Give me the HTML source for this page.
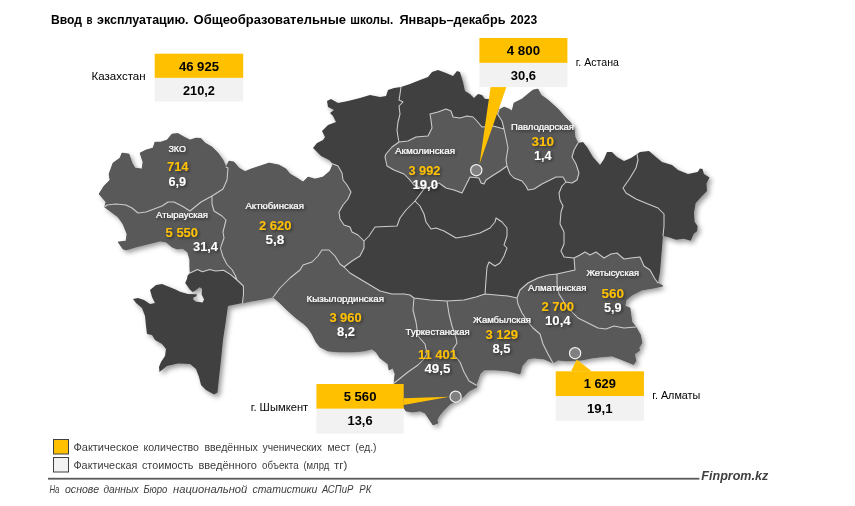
<!DOCTYPE html>
<html lang="ru"><head><meta charset="utf-8"><title>Ввод в эксплуатацию. Общеобразовательные школы</title>
<style>
html,body{margin:0;padding:0;background:#fff}
svg{display:block}
text{font-family:"Liberation Sans",sans-serif}
.ttl{font-weight:bold;font-size:12.6px;fill:#000}
.rn{font-size:9.5px;fill:#fff;stroke:#fff;stroke-width:0.2px;text-anchor:middle}
.v1{font-size:13.5px;font-weight:bold;fill:#FFC000;text-anchor:middle}
.v2{font-size:13.5px;font-weight:bold;fill:#fff;text-anchor:middle}
.bv{font-size:13px;font-weight:bold;fill:#000;text-anchor:middle}
.cn{font-size:11px;fill:#000}
.lg{font-size:10.9px;fill:#3c3c3c}
.ft{font-size:11px;fill:#3c3c3c;font-style:italic}
.fp{font-size:12.5px;fill:#404040;font-style:italic;font-weight:bold}
</style></head><body>
<svg width="855" height="506" viewBox="0 0 855 506">
<defs>
<filter id="msh" x="-5%" y="-5%" width="112%" height="112%"><feDropShadow dx="2.6" dy="2.8" stdDeviation="2.4" flood-color="#000" flood-opacity="0.4"/></filter>
<filter id="tsh" x="-20%" y="-20%" width="150%" height="160%"><feDropShadow dx="1.5" dy="1.5" stdDeviation="1.5" flood-color="#000" flood-opacity="0.5"/></filter>
</defs>
<rect width="855" height="506" fill="#fff"/>
<text class="ttl" x="51" y="24.2" textLength="31" lengthAdjust="spacingAndGlyphs">Ввод</text>
<text class="ttl" x="86.4" y="24.2" textLength="6" lengthAdjust="spacingAndGlyphs">в</text>
<text class="ttl" x="97" y="24.2" textLength="91.6" lengthAdjust="spacingAndGlyphs">эксплуатацию.</text>
<text class="ttl" x="193.6" y="24.2" textLength="152.4" lengthAdjust="spacingAndGlyphs">Общеобразовательные</text>
<text class="ttl" x="350.2" y="24.2" textLength="43" lengthAdjust="spacingAndGlyphs">школы.</text>
<text class="ttl" x="399.5" y="24.2" textLength="106" lengthAdjust="spacingAndGlyphs">Январь–декабрь</text>
<text class="ttl" x="510.3" y="24.2" textLength="26.8" lengthAdjust="spacingAndGlyphs">2023</text>
<g filter="url(#msh)">
<path d="M104.5 207 L106 202 L99 194 L104 186 L110 180 L109 174 L113 163 L120 158 L122 153 L129 154 L132 163 L135 168 L142 169 L143 162 L140 153 L146 150 L153 148 L155 142 L161 142 L167 140 L172 134 L178 133.5 L184 137 L190 140 L196 138 L201 138.5 L205 143 L212 147 L218 153 L223 160 L226 167 L229 161 L234 162 L239 168 L245 171.5 L251 169 L260 166 L269 163 L279 165 L286 169 L290 174 L297 178 L303 182 L308 177 L315 179 L323 177 L330 171 L333 164 L329 160 L321 156 L317 152 L313 148 L317 143 L323 140 L325 137 L322 131 L328 125 L336 122 L333 116 L330 113 L334 110 L328 107 L327 101 L331 99 L338 103 L348 101 L360 98 L370 95 L380 97 L386 96 L388 90 L394 88 L401 87 L410 84 L420 80 L428 77 L432 72 L438 70 L446 73 L453 76 L457 71 L460 72 L463 82 L465 91 L470 94 L474 98 L478 94 L482 95 L485 99 L489 99 L494 104 L499 110 L504 107 L509 109 L512 111 L514 103 L522 99 L528 94 L533 90 L538 89 L541 95 L548 100 L558 109 L564 116 L570 122 L574 129 L575 137 L578 143 L583 142 L587 147 L593 157 L600 165 L604 159 L607 152 L612 152 L617 157 L624 161 L631 158 L637 154 L640 152 L649 151 L656 157 L662 162 L672 165 L678 170 L688 174 L697.6 172 L700 168.5 L702.5 169 L704 174 L709.5 177.6 L706.5 183.5 L707 191 L701.6 196.4 L695.6 203.3 L694 213 L694.7 222 L697.6 226 L697.2 231 L693.7 234 L690.7 240.7 L683.8 238.8 L676 239.7 L668 237 L663 236 L662 248 L661 260 L660 272 L658 283 L663 286 L654 288 L642 290 L632 295 L626 300 L625 306 L630 308 L631 316 L632 322 L636 327 L640.5 335 L642 343 L639 347.5 L639.5 350.5 L634.5 354 L636 361 L633.5 364.5 L620 359 L612 356 L600 357 L592 358 L582 360 L566 361 L558 360 L553 363 L544 359 L534 358 L528 359 L522 366 L520 374 L508 371 L496 370 L484 370 L480 374 L478 380 L476 385 L477 387 L469 391 L463 397 L458 400 L450 404 L444 410 L439 416 L437 420 L438 423 L433 425 L429 419 L425 413 L420 411 L412 412 L406 411 L404 408 L400 400 L396 390 L394 383 L395 374 L393 368 L389 370 L388 364 L380 358 L376 352 L372 349 L364 351 L352 352 L340 352 L328 351 L320 347 L316 342 L312 334 L308 328 L304 324 L296 318 L287 310 L280 303 L273 297 L264 299 L252 301 L242.5 303 L228 306 L226 320 L223 340 L221 360 L218.8 380 L217.5 392.5 L214 394.5 L206 390 L201 385 L199 377 L196 369 L190 364 L178 363.5 L167 366 L159.5 372 L159 367 L161 362 L165 356 L166 349 L162 344 L155 340 L152 335 L147 334 L146 326 L145 316 L142 308 L136 303 L133 299 L138 298 L144 300 L150 304 L155 303 L152 297 L150 290 L156 285 L162 284 L170 287.2 L175 289.2 L180 291.7 L188 294 L196.7 294.3 L196.5 296.3 L193.5 297.5 L193.2 299.6 L195.7 301.6 L202.6 302.5 L204.1 299.6 L201.6 294.6 L202.1 288.7 L199.6 287.2 L195.5 290.5 L192.7 291.9 L189.8 289.5 L185.2 283 L187 278.8 L187.6 275.5 L190 273 L189.8 266 L189.8 259.7 L187.7 252.3 L182.8 248.4 L177 249 L172 247 L166 242 L160 241 L148 244 L136 247 L126 250 L123 249 L118 242 L126 241 L127 234 L123 224 L118 217 L110 211Z" fill="#404040"/>
</g>
<path d="M104.5 207 L106 202 L99 194 L104 186 L110 180 L109 174 L113 163 L120 158 L122 153 L129 154 L132 163 L135 168 L142 169 L143 162 L140 153 L146 150 L153 148 L155 142 L161 142 L167 140 L172 134 L178 133.5 L184 137 L190 140 L196 138 L201 138.5 L205 143 L212 147 L218 153 L223 160 L226 167 L228 168 L227 180 L223 189 L212 196 L201 202 L190 211 L182 206 L174 202 L168 202 L162 206 L154 209 L146 212 L138 213 L132 208 L126 205 L116 204 L107 205Z" fill="#595959" stroke="#595959" stroke-width="0.5"/>
<path d="M104.5 207 L107 205 L116 204 L126 205 L132 208 L138 213 L146 212 L154 209 L162 206 L168 202 L174 202 L182 206 L190 211 L201 202 L212 196 L212 204 L214 211 L222 216 L226 220 L223 232 L224 238 L220.4 248.2 L222.9 256.4 L227 264.5 L231.9 269.5 L235.2 275.2 L237 280 L230.3 274.4 L223.7 270.3 L215.5 271 L209.8 269.5 L202.4 271.8 L197.5 269.5 L190 273 L189.8 266 L189.8 259.7 L187.7 252.3 L182.8 248.4 L177 249 L172 247 L166 242 L160 241 L148 244 L136 247 L126 250 L123 249 L118 242 L126 241 L127 234 L123 224 L118 217 L110 211Z" fill="#595959" stroke="#595959" stroke-width="0.5"/>
<path d="M226 167 L229 161 L234 162 L239 168 L245 171.5 L251 169 L260 166 L269 163 L279 165 L286 169 L290 174 L297 178 L303 182 L308 177 L315 179 L323 177 L330 171 L333 164 L338 166 L342 173 L343 180 L347 185 L351 192 L348 199 L343 205 L339 212 L340 219 L344 225 L350 227 L352 232 L358 235 L364 241 L364 248 L360 256 L352 261 L344 267 L340 264 L335 256 L329 250 L322 250 L318 256 L312 262 L303 265 L300 270 L290 278 L280 288 L274 296 L273 297 L264 299 L252 301 L242.5 303 L243.5 294 L243.4 286 L237 280 L235.2 275.2 L231.9 269.5 L227 264.5 L222.9 256.4 L220.4 248.2 L224 238 L223 232 L226 220 L222 216 L214 211 L212 204 L212 196 L223 189 L227 180 L228 168Z" fill="#595959" stroke="#595959" stroke-width="0.5"/>
<path d="M399 142 L408 141 L416 137 L428 136 L432 128 L431 120 L430 114 L438 112 L446 109 L451 111 L453 117 L460 118 L467 116 L473 117 L476 120 L482 127 L493 126 L504 129 L506 138 L508 148 L506 160 L507 166 L500 171 L492 176 L486 180 L484 184 L481 183 L479 178 L470 177 L466 185 L462 193 L454 190 L446 188 L439 183 L432 186 L424 189 L414 185 L409 179 L404 174 L394 170 L387 166 L385 157 L386 154 L392 147Z" fill="#595959" stroke="#595959" stroke-width="0.5"/>
<path d="M499 110 L504 107 L509 109 L512 111 L514 103 L522 99 L528 94 L533 90 L538 89 L541 95 L548 100 L558 109 L564 116 L570 122 L574 129 L575 137 L578 143 L574 150 L572 157 L576 164 L579 173 L577 180 L572 183 L566 182 L563 177 L556 177 L550 180 L542 184 L534 189 L528 190 L526 186 L522 181 L514 178 L510 174 L507 166 L506 160 L508 148 L506 138 L504 129 L502 121 L497.5 114Z" fill="#595959" stroke="#595959" stroke-width="0.5"/>
<path d="M273 297 L274 296 L280 288 L290 278 L300 270 L303 265 L312 262 L318 256 L322 250 L329 250 L335 256 L340 264 L344 267 L350 273 L360 279 L370 285 L380 291 L392 294 L404 294 L410 295 L414 298 L413 310 L416 322 L418 336 L425 344 L427 354 L423 360 L418 365 L408 372 L398 380 L394 383 L395 374 L393 368 L389 370 L388 364 L380 358 L376 352 L372 349 L364 351 L352 352 L340 352 L328 351 L320 347 L316 342 L312 334 L308 328 L304 324 L296 318 L287 310 L280 303Z" fill="#595959" stroke="#595959" stroke-width="0.5"/>
<path d="M414 298 L430 300 L447 301 L449 314 L452 326 L456 338 L457 343 L453 349 L455 356 L460 362 L464 372 L469 381 L476 385 L477 387 L469 391 L463 397 L458 400 L450 404 L444 410 L439 416 L437 420 L438 423 L433 425 L429 419 L425 413 L420 411 L412 412 L406 411 L404 408 L400 400 L396 390 L394 383 L398 380 L408 372 L418 365 L423 360 L427 354 L425 344 L418 336 L416 322 L413 310Z" fill="#595959" stroke="#595959" stroke-width="0.5"/>
<path d="M447 301 L464 300 L476 297 L485 294 L496 295 L508 296 L517 298 L518 304 L522 313 L528 322 L533 328 L540 334 L543 344 L548 354 L553 363 L544 359 L534 358 L528 359 L522 366 L520 374 L508 371 L496 370 L484 370 L480 374 L478 380 L476 385 L469 381 L464 372 L460 362 L455 356 L453 349 L457 343 L456 338 L452 326 L449 314Z" fill="#595959" stroke="#595959" stroke-width="0.5"/>
<path d="M517 298 L520 290 L528 283 L538 278 L548 275 L557 274 L557 284 L559 294 L564 302 L570 310 L578 318 L588 323 L598 328 L606 329 L614 326 L624 328 L636 327 L640.5 335 L642 343 L639 347.5 L639.5 350.5 L634.5 354 L636 361 L633.5 364.5 L620 359 L612 356 L600 357 L592 358 L582 360 L566 361 L558 360 L553 363 L548 354 L543 344 L540 334 L533 328 L528 322 L522 313 L518 304Z" fill="#595959" stroke="#595959" stroke-width="0.5"/>
<path d="M574 258 L580 255 L585 252 L590 255 L596 252 L604 258 L611 254 L617 253 L624 259 L631 258 L640 257 L644 266 L650 270 L655 279 L658 283 L663 286 L654 288 L642 290 L632 295 L626 300 L625 306 L630 308 L631 316 L632 322 L636 327 L624 328 L614 326 L606 329 L598 328 L588 323 L578 318 L570 310 L564 302 L559 294 L557 284 L557 274 L575 270Z" fill="#595959" stroke="#595959" stroke-width="0.5"/>
<path d="M226 167 L228 168 L227 180 L223 189 L212 196 M212 196 L201 202 L190 211 L182 206 L174 202 L168 202 L162 206 L154 209 L146 212 L138 213 L132 208 L126 205 L116 204 L107 205 L104.5 207 M212 196 L212 204 L214 211 L222 216 L226 220 L223 232 L224 238 L220.4 248.2 L222.9 256.4 L227 264.5 L231.9 269.5 L235.2 275.2 L237 280 M190 273 L197.5 269.5 L202.4 271.8 L209.8 269.5 L215.5 271 L223.7 270.3 L230.3 274.4 L237 280 M237 280 L243.4 286 L243.5 294 L242.5 303 M333 164 L338 166 L342 173 L343 180 L347 185 L351 192 L348 199 L343 205 L339 212 L340 219 L344 225 L350 227 L352 232 L358 235 L364 241 M364 241 L364 248 L360 256 L352 261 L344 267 M344 267 L340 264 L335 256 L329 250 L322 250 L318 256 L312 262 L303 265 L300 270 L290 278 L280 288 L274 296 L273 297 M401 87 L400 94 L399 100 L403 102 L399 106 L400 114 L398 122 L397 130 L398 137 L399 142 M399 142 L408 141 L416 137 L428 136 L432 128 L431 120 L430 114 L438 112 L446 109 L451 111 L453 117 L460 118 L467 116 L473 117 L476 120 L482 127 L493 126 L504 129 M399 142 L392 147 L386 154 L385 157 L387 166 L394 170 L404 174 L409 179 L414 185 L424 189 M424 189 L415 201 M415 201 L406 210 L400 218 L397 226 L375 227 L369 236 L364 241 M499 110 L497.5 114 L502 121 L504 129 M504 129 L506 138 L508 148 L506 160 L507 166 M507 166 L500 171 L492 176 L486 180 L484 184 L481 183 L479 178 L470 177 L466 185 L462 193 L454 190 L446 188 L439 183 L432 186 L424 189 M578 143 L574 150 L572 157 L576 164 L579 173 L577 180 L572 183 L566 182 M566 182 L563 177 L556 177 L550 180 L542 184 L534 189 L528 190 L526 186 L522 181 L514 178 L510 174 L507 166 M637 154 L638 160 L636 168 L630 178 L623 188 L626 193 L636 199 L648 204 L658 208 L664 214 L664 226 L663 236 M566 182 L562 186 L559 193 L560 200 L563 206 L561 212 L560 224 L564 232 L564 244 L561 251 L564 257 L574 258 M574 258 L580 255 L585 252 L590 255 L596 252 L604 258 L611 254 L617 253 L624 259 L631 258 L640 257 L644 266 L650 270 L655 279 L658 283 M574 258 L575 270 L557 274 M557 274 L548 275 L538 278 L528 283 L520 290 L517 298 M557 274 L557 284 L559 294 L564 302 L570 310 L578 318 L588 323 L598 328 L606 329 L614 326 L624 328 L636 327 M517 298 L518 304 L522 313 L528 322 L533 328 L540 334 L543 344 L548 354 L553 363 M517 298 L508 296 L496 295 L485 294 M415 201 L420 206 L424 214 L426 222 L431 229 L436 228 L444 231 L456 238 L468 236 L480 233 L490 228 L495 222 L496 218 L502 222 L507 228 L507 236 L504 245 L507 248 L504 256 L500 263 L495 266 L489 262 L487 267 L486 280 L485 294 M485 294 L476 297 L464 300 L447 301 M447 301 L430 300 L414 298 M344 267 L350 273 L360 279 L370 285 L380 291 L392 294 L404 294 L410 295 L414 298 M414 298 L413 310 L416 322 L418 336 L425 344 L427 354 L423 360 L418 365 L408 372 L398 380 L394 383 M447 301 L449 314 L452 326 L456 338 L457 343 L453 349 L455 356 L460 362 L464 372 L469 381 L476 385" fill="none" stroke="#cdcdcd" stroke-width="1.05" stroke-linejoin="round" stroke-linecap="round"/>
<g filter="url(#tsh)">
<text class="rn" x="177.2" y="152.4" textLength="17.6" lengthAdjust="spacingAndGlyphs">ЗКО</text>
<text class="v1" x="177.7" y="170.9" textLength="21.4" lengthAdjust="spacingAndGlyphs">714</text>
<text class="v2" x="177.2" y="185.9" textLength="17.6" lengthAdjust="spacingAndGlyphs">6,9</text>
<text class="rn" x="182" y="218.1" textLength="52" lengthAdjust="spacingAndGlyphs">Атырауская</text>
<text class="v1" x="181.8" y="237.3" textLength="32.4" lengthAdjust="spacingAndGlyphs">5 550</text>
<text class="v2" x="205.5" y="251.1" textLength="25" lengthAdjust="spacingAndGlyphs">31,4</text>
<text class="rn" x="274.7" y="209.1" textLength="58.6" lengthAdjust="spacingAndGlyphs">Актюбинская</text>
<text class="v1" x="275.2" y="230.1" textLength="32.4" lengthAdjust="spacingAndGlyphs">2 620</text>
<text class="v2" x="275" y="244.1" textLength="18.8" lengthAdjust="spacingAndGlyphs">5,8</text>
<text class="rn" x="425" y="154.1" textLength="60" lengthAdjust="spacingAndGlyphs">Акмолинская</text>
<text class="v1" x="424.4" y="175.3" textLength="32" lengthAdjust="spacingAndGlyphs">3 992</text>
<text class="v2" x="425.2" y="189.3" textLength="25.6" lengthAdjust="spacingAndGlyphs">19,0</text>
<text class="rn" x="542.5" y="129.5" textLength="63" lengthAdjust="spacingAndGlyphs">Павлодарская</text>
<text class="v1" x="542.8" y="146.3" textLength="22.4" lengthAdjust="spacingAndGlyphs">310</text>
<text class="v2" x="542.8" y="160.1" textLength="17.6" lengthAdjust="spacingAndGlyphs">1,4</text>
<text class="rn" x="345.3" y="301.9" textLength="77.4" lengthAdjust="spacingAndGlyphs">Кызылординская</text>
<text class="v1" x="345.5" y="322.1" textLength="32.2" lengthAdjust="spacingAndGlyphs">3 960</text>
<text class="v2" x="346" y="336.1" textLength="18" lengthAdjust="spacingAndGlyphs">8,2</text>
<text class="rn" x="437.6" y="334.9" textLength="64" lengthAdjust="spacingAndGlyphs">Туркестанская</text>
<text class="v1" x="437.5" y="358.7" textLength="39" lengthAdjust="spacingAndGlyphs">11 401</text>
<text class="v2" x="437.4" y="373.1" textLength="26" lengthAdjust="spacingAndGlyphs">49,5</text>
<text class="rn" x="502" y="322.5" textLength="58" lengthAdjust="spacingAndGlyphs">Жамбылская</text>
<text class="v1" x="501.7" y="339.1" textLength="32.6" lengthAdjust="spacingAndGlyphs">3 129</text>
<text class="v2" x="501.4" y="352.7" textLength="18" lengthAdjust="spacingAndGlyphs">8,5</text>
<text class="rn" x="557.2" y="291.1" textLength="58.4" lengthAdjust="spacingAndGlyphs">Алматинская</text>
<text class="v1" x="557.7" y="311.3" textLength="32.6" lengthAdjust="spacingAndGlyphs">2 700</text>
<text class="v2" x="557.8" y="325.3" textLength="25.6" lengthAdjust="spacingAndGlyphs">10,4</text>
<text class="rn" x="612.7" y="276.1" textLength="52.6" lengthAdjust="spacingAndGlyphs">Жетысуская</text>
<text class="v1" x="612.8" y="297.7" textLength="22.4" lengthAdjust="spacingAndGlyphs">560</text>
<text class="v2" x="612.8" y="312.1" textLength="17.6" lengthAdjust="spacingAndGlyphs">5,9</text>
</g>
<rect x="154.7" y="53.7" width="88.5" height="24.2" fill="#FFC000"/><rect x="154.7" y="77.9" width="88.5" height="23.6" fill="#F2F2F2"/><text class="bv" x="198.95" y="71" textLength="40" lengthAdjust="spacingAndGlyphs">46 925</text><text class="bv" x="198.95" y="95" textLength="32" lengthAdjust="spacingAndGlyphs">210,2</text>
<path d="M490.6 87 L506.4 87 L479.5 164Z" fill="#FFC000"/>
<rect x="479.4" y="38" width="88" height="24.9" fill="#FFC000"/><rect x="479.4" y="62.9" width="88" height="24.2" fill="#F2F2F2"/><text class="bv" x="523.4" y="54.9" textLength="33.3" lengthAdjust="spacingAndGlyphs">4 800</text><text class="bv" x="523.4" y="79.7" textLength="25.3" lengthAdjust="spacingAndGlyphs">30,6</text>
<path d="M403.5 398.2 L449.5 396.7 L403.5 405Z" fill="#FFC000"/>
<rect x="316.4" y="384" width="87.3" height="24.8" fill="#FFC000"/><rect x="316.4" y="408.8" width="87.3" height="24.8" fill="#F2F2F2"/><text class="bv" x="360.05" y="400.6" textLength="32.8" lengthAdjust="spacingAndGlyphs">5 560</text><text class="bv" x="360.05" y="425.2" textLength="25" lengthAdjust="spacingAndGlyphs">13,6</text>
<path d="M571 371.5 L576.8 359.6 L592 371.5Z" fill="#FFC000"/>
<rect x="555.7" y="371.3" width="88.2" height="24.7" fill="#FFC000"/><rect x="555.7" y="396" width="88.2" height="24.8" fill="#F2F2F2"/><text class="bv" x="599.8" y="388" textLength="32.2" lengthAdjust="spacingAndGlyphs">1 629</text><text class="bv" x="599.8" y="412.7" textLength="25.7" lengthAdjust="spacingAndGlyphs">19,1</text><circle cx="476.3" cy="170.2" r="5.6" fill="#808080" stroke="#f2f2f2" stroke-width="1.2"/><circle cx="455.6" cy="396.7" r="5.6" fill="#808080" stroke="#f2f2f2" stroke-width="1.2"/><circle cx="575.1" cy="353.2" r="5.6" fill="#808080" stroke="#f2f2f2" stroke-width="1.2"/>
<text class="cn" x="91.6" y="80" textLength="54" lengthAdjust="spacingAndGlyphs">Казахстан</text>
<text class="cn" x="575.8" y="65.6" textLength="43.2" lengthAdjust="spacingAndGlyphs">г. Астана</text>
<text class="cn" x="250.7" y="411.2" textLength="57.5" lengthAdjust="spacingAndGlyphs">г. Шымкент</text>
<text class="cn" x="652.3" y="399.1" textLength="48" lengthAdjust="spacingAndGlyphs">г. Алматы</text>
<rect x="53.5" y="439.5" width="15" height="14.5" fill="#FFC000" stroke="#404040" stroke-width="1"/>
<rect x="53.5" y="457.5" width="15" height="14.5" fill="#F2F2F2" stroke="#404040" stroke-width="1"/>
<text class="lg" x="73.4" y="451" textLength="65.2" lengthAdjust="spacingAndGlyphs">Фактическое</text>
<text class="lg" x="143.4" y="451" textLength="55.6" lengthAdjust="spacingAndGlyphs">количество</text>
<text class="lg" x="204.4" y="451" textLength="53.4" lengthAdjust="spacingAndGlyphs">введённых</text>
<text class="lg" x="262.6" y="451" textLength="59.4" lengthAdjust="spacingAndGlyphs">ученических</text>
<text class="lg" x="327.4" y="451" textLength="23" lengthAdjust="spacingAndGlyphs">мест</text>
<text class="lg" x="355.2" y="451" textLength="21.3" lengthAdjust="spacingAndGlyphs">(ед.)</text>
<text class="lg" x="73.4" y="469" textLength="64" lengthAdjust="spacingAndGlyphs">Фактическая</text>
<text class="lg" x="142" y="469" textLength="51.4" lengthAdjust="spacingAndGlyphs">стоимость</text>
<text class="lg" x="198.4" y="469" textLength="58.5" lengthAdjust="spacingAndGlyphs">введённого</text>
<text class="lg" x="262" y="469" textLength="36.6" lengthAdjust="spacingAndGlyphs">объекта</text>
<text class="lg" x="303.4" y="469" textLength="25.9" lengthAdjust="spacingAndGlyphs">(млрд</text>
<text class="lg" x="334" y="469" textLength="13.3" lengthAdjust="spacingAndGlyphs">тг)</text>
<rect x="48" y="477.8" width="651.4" height="1.8" fill="#595959"/>
<text class="fp" x="701.3" y="479.6" textLength="67" lengthAdjust="spacingAndGlyphs">Finprom.kz</text>
<text class="ft" x="49.4" y="492.6" textLength="10" lengthAdjust="spacingAndGlyphs">На</text>
<text class="ft" x="65" y="492.6" textLength="34" lengthAdjust="spacingAndGlyphs">основе</text>
<text class="ft" x="103.4" y="492.6" textLength="35.2" lengthAdjust="spacingAndGlyphs">данных</text>
<text class="ft" x="143.4" y="492.6" textLength="24" lengthAdjust="spacingAndGlyphs">Бюро</text>
<text class="ft" x="173" y="492.6" textLength="74.3" lengthAdjust="spacingAndGlyphs">национальной</text>
<text class="ft" x="252.5" y="492.6" textLength="64.8" lengthAdjust="spacingAndGlyphs">статистики</text>
<text class="ft" x="322" y="492.6" textLength="31.3" lengthAdjust="spacingAndGlyphs">АСПиР</text>
<text class="ft" x="359.3" y="492.6" textLength="12" lengthAdjust="spacingAndGlyphs">РК</text>
</svg>
</body></html>
